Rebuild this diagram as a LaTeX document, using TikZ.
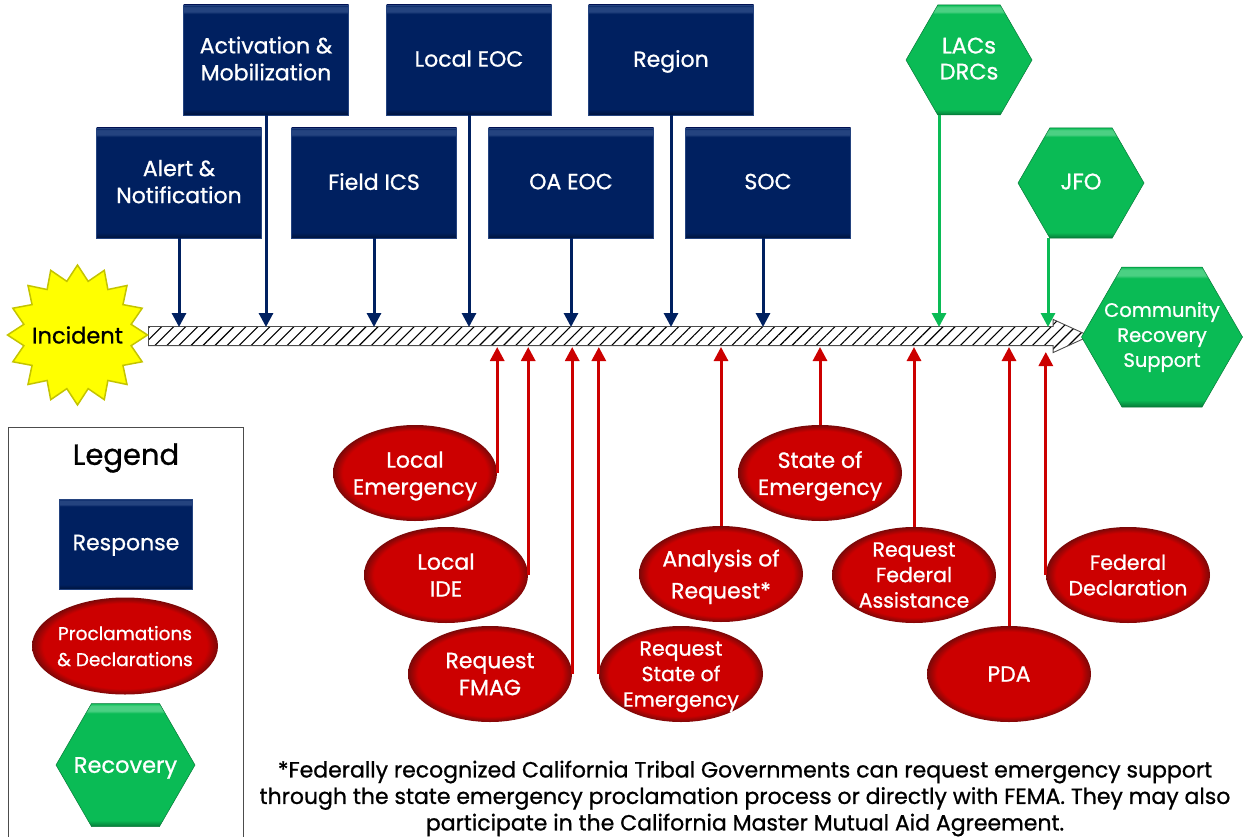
\documentclass[tikz,border=0pt]{standalone}
\usepackage{fontspec}
\setmainfont{Poppins}[FakeBold=0.9]
\usetikzlibrary{arrows.meta, patterns.meta, shapes.arrows, shapes.geometric, shapes.symbols}

\definecolor{respblue}{HTML}{002060}
\definecolor{respedge}{HTML}{00143C}
\definecolor{resptop}{HTML}{24437F}
\definecolor{procred}{HTML}{CC0000}
\definecolor{procedge}{HTML}{7A0808}
\definecolor{recovgreen}{HTML}{0ABB55}
\definecolor{recovedge}{HTML}{067A38}
\definecolor{recovtop}{HTML}{4BD083}
\definecolor{burstyellow}{HTML}{FFFF00}
\definecolor{burstedge}{HTML}{C4C400}

\pgfdeclareverticalshading{respbevel}{100bp}{color(0bp)=(respedge); color(25bp)=(respedge); color(27.5bp)=(respblue); color(71bp)=(respblue); color(72bp)=(resptop); color(74bp)=(resptop); color(75bp)=(respblue); color(100bp)=(respblue)}
\pgfdeclareverticalshading{recovbevel}{100bp}{color(0bp)=(recovedge); color(25bp)=(recovedge); color(27.5bp)=(recovgreen); color(71bp)=(recovgreen); color(72bp)=(recovtop); color(74bp)=(recovtop); color(75bp)=(recovgreen); color(100bp)=(recovgreen)}
\pgfdeclareradialshading{procbevel}{\pgfpoint{0bp}{0bp}}{color(0bp)=(procred); color(22bp)=(procred); color(25bp)=(procedge); color(50bp)=(procedge)}

\begin{document}
\begin{tikzpicture}[
    x=1pt, y=-1pt,
    respbox/.style={
        rectangle,
        draw=resptop,
        line width=0.6pt,
        shading=respbevel,
        text=white,
        align=center,
        inner sep=0pt,
        text depth=3pt,
        minimum width=165pt,
        minimum height=110pt,
        font=\fontsize{22}{27}\selectfont,
    },
    recovhex/.style={
        signal,
        signal to=east and west,
        signal pointer angle=120,
        draw=recovedge,
        line width=0.5pt,
        shading=recovbevel,
        text=white,
        align=center,
        inner ysep=0pt,
        inner xsep=-20pt,
        font=\fontsize{22.5}{26}\selectfont,
    },
    procoval/.style={
        ellipse,
        shading=procbevel,
        text=white,
        align=center,
        inner sep=-15pt,
        text depth=0pt,
        minimum width=164pt,
        minimum height=96pt,
        font=\fontsize{22}{27}\selectfont,
    },
    smalltext/.style={
        font=\fontsize{20.5}{25.5}\selectfont,
    },
    respline/.style={
        respblue,
        line width=3pt,
        -{Stealth[inset=0pt, length=14pt, width=14pt]},
    },
    recovline/.style={
        recovgreen,
        line width=3pt,
        -{Stealth[inset=0pt, length=14pt, width=14pt]},
    },
    procline/.style={
        procred,
        line width=3pt,
        -{Stealth[inset=0pt, length=14pt, width=14pt]},
    },
]
    \useasboundingbox (0,0) rectangle (1244,837);

    % Timeline
    \node[
        single arrow,
        draw=black!70,
        line width=0.9pt,
        pattern={Lines[angle=45, distance=8.5pt, line width=1.1pt]},
        inner sep=0pt,
        minimum height=941pt,
        single arrow head extend=7pt,
        single arrow tip angle=49,
    ] (timeline) at (608.5,336) {\rule{0pt}{18pt}};
    \coordinate (barTop) at (0,327);
    \coordinate (barBottom) at (0,347);
    \coordinate (headBottom) at (0,352);

    % Incident
    \node[
        star,
        star points=16,
        star point ratio=1.28,
        minimum size=140pt,
        inner sep=-12pt,
        fill=burstyellow,
        draw=burstedge,
        line width=1.5pt,
        font=\fontsize{22.5}{25}\selectfont,
    ] (incident) at (77.5,335) {Incident};

    % Response boxes
    \node[respbox] (activation) at (266,60) {Activation \&\\Mobilization};
    \node[respbox] (localeoc) at (469,60) {Local EOC};
    \node[respbox] (region) at (671,60) {Region};
    \node[respbox] (alert) at (179,183) {Alert \&\\Notification};
    \node[respbox] (fieldics) at (374,183) {Field ICS};
    \node[respbox] (oaeoc) at (571,183) {OA EOC};
    \node[respbox] (soc) at (768,183) {SOC};

    % Recovery hexagons
    \node[recovhex, text depth=3pt, minimum width=126pt, minimum height=110pt] (lacs) at (969,60) {LACs\\DRCs};
    \node[recovhex, text depth=3pt, minimum width=126pt, minimum height=110pt] (jfo) at (1081,183) {JFO};
    \node[recovhex, minimum width=161pt, minimum height=140pt, font=\fontsize{19.5}{25}\selectfont] (community) at (1162,337) {Community\\Recovery\\Support};

    % Proclamations and declarations
    \node[procoval] (localemerg) at (415,473) {Local\\Emergency};
    \node[procoval] (localide) at (446,575) {Local\\IDE};
    \node[procoval] (fmag) at (490,674) {Request\\FMAG};
    \node[procoval, smalltext] (reqstate) at (681,674) {Request\\State of\\Emergency};
    \node[procoval] (analysis) at (721,574) {Analysis of\\[5pt]Request*};
    \node[procoval] (stateemerg) at (820,473) {State of\\Emergency};
    \node[procoval, smalltext] (reqfederal) at (914,575) {Request\\Federal\\Assistance};
    \node[procoval] (pda) at (1009,674) {PDA};
    \node[procoval, smalltext] (feddecl) at (1128,575) {Federal\\Declaration};

    % Response arrows
    \draw[respline] (alert.south) -- (alert.south |- barTop);
    \draw[respline] (activation.south) -- (activation.south |- barTop);
    \draw[respline] (fieldics.south) -- (fieldics.south |- barTop);
    \draw[respline] (localeoc.south) -- (localeoc.south |- barTop);
    \draw[respline] (oaeoc.south) -- (oaeoc.south |- barTop);
    \draw[respline] (region.south) -- (region.south |- barTop);
    \draw[respline] ([xshift=-5pt]soc.south) -- ([xshift=-5pt]soc.south |- barTop);

    % Recovery arrows
    \draw[recovline] ([xshift=-30pt]lacs.south) -- ([xshift=-30pt]lacs.south |- barTop);
    \draw[recovline] ([xshift=-33pt]jfo.south) -- ([xshift=-33pt]jfo.south |- barTop);

    % Proclamation arrows
    \draw[procline] (localemerg.east) -- (localemerg.east |- barBottom);
    \draw[procline] (localide.east) -- (localide.east |- barBottom);
    \draw[procline] (fmag.east) -- (fmag.east |- barBottom);
    \draw[procline] (reqstate.west) -- (reqstate.west |- barBottom);
    \draw[procline] (analysis.north) -- (analysis.north |- barBottom);
    \draw[procline] (stateemerg.north) -- (stateemerg.north |- barBottom);
    \draw[procline] (reqfederal.north) -- (reqfederal.north |- barBottom);
    \draw[procline] (pda.north) -- (pda.north |- barBottom);
    \draw[procline] (feddecl.west) -- (feddecl.west |- headBottom);

    % Legend
    \node[draw=black!70, line width=0.9pt, minimum width=235pt, minimum height=410pt, inner sep=0pt] (legendbox) at (125.5,632) {};
    \node[font=\fontsize{29}{30}\selectfont] (legendtitle) at (126,458) {Legend};
    \node[respbox, minimum width=133pt, minimum height=90pt] (legendresp) at (126,544) {Response};
    \node[procoval, minimum width=186pt, minimum height=97pt, font=\fontsize{18.5}{26}\selectfont] (legendproc) at (125,646) {Proclamations\\\& Declarations};
    \node[recovhex, text depth=0pt, minimum width=139pt, minimum height=123pt] (legendrecov) at (125.5,765) {Recovery};

    % Footnote
    \node[align=center, font=\fontsize{22}{26.5}\selectfont] (footnote) at (745,798.5) {*Federally recognized California Tribal Governments can request emergency support\\through the state emergency proclamation process or directly with FEMA. They may also\\participate in the California Master Mutual Aid Agreement.};
\end{tikzpicture}
\end{document}
